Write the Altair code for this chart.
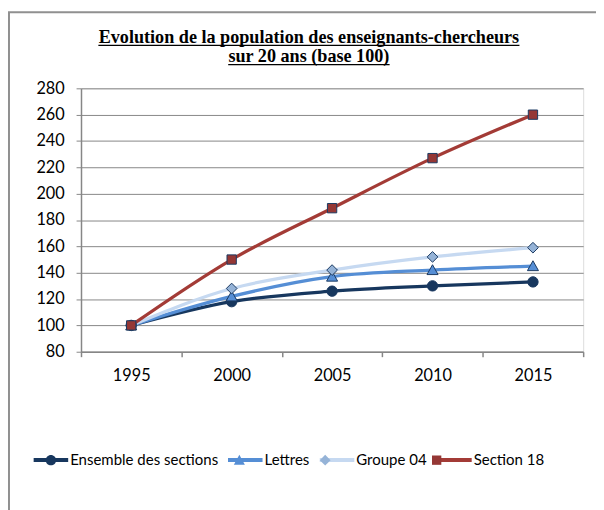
import altair as alt
import pandas as pd

years = ["1995", "2000", "2005", "2010", "2015"]
series_names = ["Ensemble des sections", "Lettres", "Groupe 04", "Section 18"]
ensemble = [100, 118, 126, 130, 133]
lettres = [100, 122, 137, 142, 145]
groupe04 = [100, 128, 142, 152, 159]
section18 = [100, 150, 189, 227, 260]
y_ticks = [80, 100, 120, 140, 160, 180, 200, 220, 240, 260, 280]
title_lines = ["Evolution de la population des enseignants-chercheurs",
               "sur 20 ans (base 100)"]

line_colors = ["#17375e", "#558ed5", "#c6d9f1", "#a33b36"]
marker_fills = ["#17375e", "#558ed5", "#95b3d7", "#953735"]
marker_stroke = "#1b3a62"
marker_paths = [
    "M0.3,0A0.3,0.3,0,1,1,-0.3,0A0.3,0.3,0,1,1,0.3,0Z",
    "M0,-0.31L0.32,0.26L-0.32,0.26Z",
    "M0,-0.31L0.31,0L0,0.31L-0.31,0Z",
    "M-0.27,-0.27H0.27V0.27H-0.27Z",
]

rows = []
for name, vals in zip(series_names, [ensemble, lettres, groupe04, section18]):
    for yr, v in zip(years, vals):
        rows.append({"annee": yr, "valeur": v, "serie": name, "serie_m": name})
df = pd.DataFrame(rows)
one = pd.DataFrame({"k": [0]})

FONT = "Lato"
FS_AX = 16.5
FS_LEG = 15.2
AX = "#868686"

x_enc = alt.X("annee:O",
              scale=alt.Scale(type="band", paddingInner=0, paddingOuter=0),
              axis=alt.Axis(title=None, labelAngle=0, tickBand="extent",
                            domainColor=AX, domainWidth=1.5, tickColor=AX,
                            tickWidth=1.5, tickSize=5, labelPadding=11,
                            labelFont=FONT, labelFontSize=FS_AX, labelColor="black",
                            grid=False))
y_enc = alt.Y("valeur:Q",
              scale=alt.Scale(domain=[80, 280], nice=False, zero=False),
              axis=alt.Axis(title=None, values=y_ticks, grid=True, gridColor=AX,
                            gridWidth=1, domainColor=AX, domainWidth=1.5,
                            tickColor=AX, tickWidth=1, tickSize=5, labelPadding=12,
                            labelFont=FONT, labelFontSize=FS_AX, labelColor="black"))

legend_common = dict(orient="none", direction="horizontal", columns=4, title=None,
                     labelFont=FONT, labelFontSize=FS_LEG, labelColor="black",
                     columnPadding=2, symbolSize=1225)

frame = alt.Chart(one).mark_rect(fillOpacity=0, stroke="#909090", strokeWidth=2).encode(
    x=alt.value(-73), x2=alt.value(620), y=alt.value(-77), y2=alt.value(520))

lines = alt.Chart(df).mark_line(interpolate="monotone", strokeWidth=3.3).encode(
    x=x_enc, y=y_enc,
    stroke=alt.Stroke("serie:N", sort=series_names,
                      scale=alt.Scale(range=line_colors),
                      legend=alt.Legend(legendX=-50, legendY=357, symbolType="stroke",
                                        symbolStrokeWidth=4, labelOffset=0,
                                        **legend_common)),
)

leg_b = dict(legendX=-48.5, legendY=358.5, symbolStrokeWidth=1,
             symbolStrokeColor=marker_stroke, labelOffset=3, labelOpacity=0,
             **legend_common)

points = alt.Chart(df).mark_point(filled=True, size=1225, stroke=marker_stroke,
                                  strokeWidth=1, fillOpacity=1, strokeOpacity=1).encode(
    x=x_enc, y=y_enc,
    fill=alt.Fill("serie_m:N",
                  scale=alt.Scale(domain=series_names, range=marker_fills),
                  legend=alt.Legend(**leg_b)),
    shape=alt.Shape("serie_m:N",
                    scale=alt.Scale(domain=series_names, range=marker_paths),
                    legend=alt.Legend(**leg_b)),
)

TX = 231
TF = 18.4
t1 = alt.Chart(one).mark_text(text=title_lines[0], font="Liberation Serif", fontWeight="bold",
                              fontSize=TF, align="center", baseline="alphabetic",
                              color="black").encode(x=alt.value(TX), y=alt.value(-46))
t2 = alt.Chart(one).mark_text(text=title_lines[1], font="Liberation Serif", fontWeight="bold",
                              fontSize=TF, align="center", baseline="alphabetic",
                              color="black").encode(x=alt.value(TX), y=alt.value(-26.5))
u1 = alt.Chart(one).mark_rule(color="black", strokeWidth=1.3).encode(
    x=alt.value(TX - 213.4), x2=alt.value(TX + 213.4), y=alt.value(-43.5))
u2 = alt.Chart(one).mark_rule(color="black", strokeWidth=1.3).encode(
    x=alt.value(TX - 81.8), x2=alt.value(TX + 81.8), y=alt.value(-24))

chart = alt.layer(frame, lines, points, t1, t2, u1, u2).resolve_scale(
    x="shared", y="shared"
).properties(
    width=509, height=267,
    autosize=alt.AutoSizeParams(type="none"),
    padding={"left": 74, "top": 78, "right": 13, "bottom": 157},
).configure_view(stroke=None).configure(background="white")

chart.save("out.html", embed_options={"renderer": "svg", "actions": False})
